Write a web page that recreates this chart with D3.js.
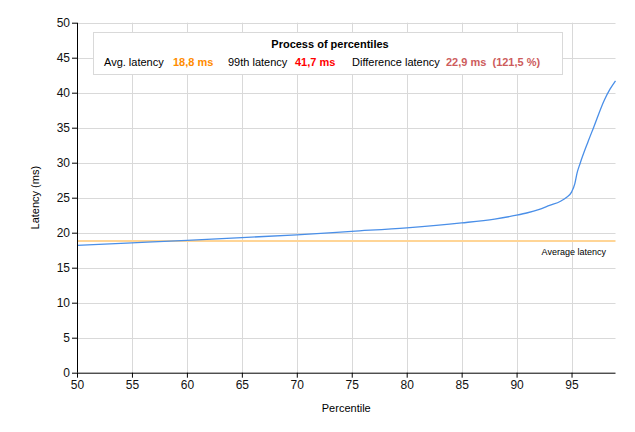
<!DOCTYPE html>
<html><head><meta charset="utf-8">
<script src="https://cdn.jsdelivr.net/npm/d3@7"></script>
<style>body{margin:0;background:#fff}svg{display:block;font-family:"Liberation Sans",Arial,sans-serif}</style>
</head><body><svg id="c" width="635" height="432"></svg>
<script>
const percentiles = [50,55,60,65,70,75,80,85,88,90,91,92,93,94,94.5,95,95.3,95.5,95.8,96.5,97,98,98.5,99];
const latency =     [18.2,18.55,18.9,19.3,19.7,20.2,20.7,21.4,21.95,22.5,22.85,23.3,23.9,24.5,25.0,25.8,27.0,28.5,30.0,33.0,35.0,39.0,40.5,41.7];
const avgLatency = 18.8;
const xTicks = [50,55,60,65,70,75,80,85,90,95];
const yTicks = [0,5,10,15,20,25,30,35,40,45,50];
const legendTitle = "Process of percentiles";
const legendItems = [
  {label:"Avg. latency", value:"18,8 ms", color:"#ff8c00"},
  {label:"99th latency", value:"41,7 ms", color:"#ff0000"},
  {label:"Difference latency", value:"22,9 ms  (121,5 %)", color:"#cd5c5c"}
];

const svg = d3.select("#c");
const L=77, R=615.5, T=22.7, B=372.7;
const x = d3.scaleLinear().domain([50,99]).range([L,R]);
const y = d3.scaleLinear().domain([0,50]).range([B,T]);

// grid
svg.append("g").selectAll("line").data(xTicks.slice(1)).join("line")
  .attr("x1",d=>Math.round(x(d))+0.5).attr("x2",d=>Math.round(x(d))+0.5)
  .attr("y1",T).attr("y2",B).attr("stroke","#d9d9d9");
svg.append("g").selectAll("line").data(yTicks.slice(1)).join("line")
  .attr("y1",d=>Math.round(y(d))+0.5).attr("y2",d=>Math.round(y(d))+0.5)
  .attr("x1",L).attr("x2",R).attr("stroke","#d9d9d9");

// average line
svg.append("line").attr("x1",L).attr("x2",R)
  .attr("y1",y(avgLatency)).attr("y2",y(avgLatency))
  .attr("stroke","#ffd596").attr("stroke-width",2);
svg.append("text").attr("x",606).attr("y",255).attr("text-anchor","end")
  .attr("font-size","9px").attr("fill","#000").text("Average latency");

// series
svg.append("path").datum(percentiles.map((p,i)=>[p,latency[i]]))
  .attr("fill","none").attr("stroke","#4a8fe8").attr("stroke-width",1.3)
  .attr("d", d3.line().x(d=>x(d[0])).y(d=>y(d[1])).curve(d3.curveMonotoneX));

// axes
const xa = svg.append("g").attr("transform",`translate(0,${B})`)
  .call(d3.axisBottom(x).tickValues(xTicks).tickSize(5).tickPadding(3).tickFormat(d3.format("d")));
const ya = svg.append("g").attr("transform",`translate(${L},0)`)
  .call(d3.axisLeft(y).tickValues(yTicks).tickSize(5).tickPadding(2).tickFormat(d3.format("d")));
[xa,ya].forEach(a=>{
  a.select(".domain").attr("stroke","#000");
  a.selectAll(".tick line").attr("stroke","#000");
  a.selectAll("text").attr("font-size","12px").attr("fill","#111").attr("font-family","'Liberation Sans',Arial,sans-serif");
});
xa.select(".domain").attr("d",`M${L},0.5H${R}`);
ya.select(".domain").attr("d",`M0.5,${B}V${T}`);

svg.append("text").attr("x",(L+R)/2).attr("y",412).attr("text-anchor","middle")
  .attr("font-size","11px").text("Percentile");
svg.append("text").attr("transform",`translate(39,${(T+B)/2}) rotate(-90)`)
  .attr("text-anchor","middle").attr("font-size","11px").text("Latency (ms)");

// legend
const lg = svg.append("g");
lg.append("rect").attr("x",93.5).attr("y",32.5).attr("width",469).attr("height",42)
  .attr("fill","#fff").attr("stroke","#d9d9d9");
lg.append("text").attr("x",330).attr("y",48).attr("text-anchor","middle")
  .attr("font-size","11px").attr("font-weight","bold").text(legendTitle);
const labelX = [104,228,352];
const valueX = [173,295,446];
legendItems.forEach((it,i)=>{
  lg.append("text").attr("x",labelX[i]).attr("y",66).attr("font-size","11px").attr("fill","#000").text(it.label);
  lg.append("text").attr("x",valueX[i]).attr("y",66).attr("font-size","11px").attr("font-weight","bold")
    .attr("fill",it.color).style("white-space","pre").text(it.value);
});
</script></body></html>
